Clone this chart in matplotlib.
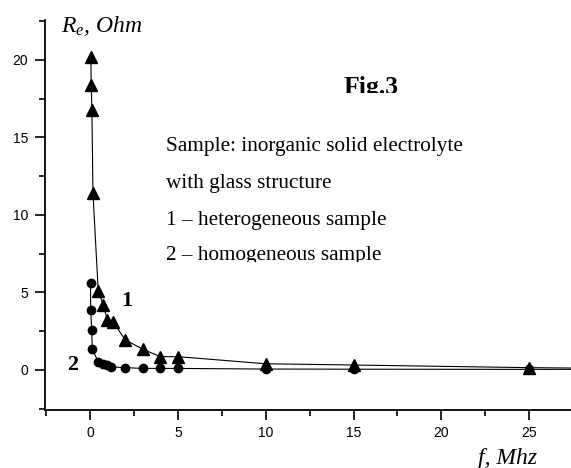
import matplotlib
matplotlib.use("Agg")
import matplotlib.pyplot as plt
from matplotlib.transforms import Bbox, TransformedBbox
from matplotlib.ticker import MultipleLocator

# Data (f in MHz, Re in Ohm)
f_het = [0.05, 0.07, 0.11, 0.17, 0.47, 0.76, 0.99, 1.33, 2.0, 3.0, 4.0, 5.0, 10.0, 15.0, 25.0, 30.0]
re_het = [20.2, 18.4, 16.8, 11.4, 5.1, 4.2, 3.2, 3.1, 1.94, 1.35, 0.86, 0.86, 0.40, 0.32, 0.15, 0.10]
f_hom = [0.03, 0.04, 0.1, 0.13, 0.47, 0.72, 0.95, 1.18, 2.0, 3.0, 4.0, 5.0, 10.0, 15.0, 25.0, 30.0]
re_hom = [5.6, 3.9, 2.55, 1.35, 0.53, 0.40, 0.30, 0.20, 0.15, 0.10, 0.10, 0.10, 0.06, 0.05, 0.04, 0.04]

x_ticks = [0, 5, 10, 15, 20, 25]
y_ticks = [0, 5, 10, 15, 20]

W, H = 571, 468
plt.rcParams['mathtext.fontset'] = 'custom'
plt.rcParams['mathtext.it'] = 'Liberation Serif:italic'
plt.rcParams['mathtext.rm'] = 'Liberation Serif'

fig = plt.figure(figsize=(W / 100, H / 100), dpi=100)
ax = fig.add_axes([45 / W, (H - 409.5) / H, 1 - 45 / W, (409.5 - 20) / H])

ax.plot(f_het, re_het, color='black', lw=0.8, marker='^', ms=8, mfc='black', mec='black', clip_on=True)
ax.plot(f_hom, re_hom, color='black', lw=0.8, marker='o', ms=6, mfc='black', mec='black', clip_on=True)

ax.set_xlim(-2.56, 27.38)
ax.set_ylim(-2.55, 22.58)
ax.set_xticks(x_ticks)
ax.set_yticks(y_ticks)
ax.xaxis.set_minor_locator(MultipleLocator(2.5))
ax.yaxis.set_minor_locator(MultipleLocator(2.5))
for s in ['top', 'right']:
    ax.spines[s].set_visible(False)
for s in ['left', 'bottom']:
    ax.spines[s].set_linewidth(1.3)
ax.tick_params(which='major', direction='out', length=7, width=1.2, labelsize=10, pad=5)
ax.tick_params(which='minor', direction='out', length=4, width=1.2)
for lab in ax.get_xticklabels() + ax.get_yticklabels():
    lab.set_fontfamily('Liberation Sans')

def px(x, y):
    return x / W, 1 - y / H

serif = 'Liberation Serif'
fig.text(*px(61, 32), r'$R_e$, Ohm', fontsize=17, fontstyle='italic', family=serif, va='baseline')
fig.text(*px(478, 464), 'f, Mhz', fontsize=17, fontstyle='italic', family=serif, va='baseline')

t = fig.text(*px(344, 94), 'Fig.3', fontsize=18.5, fontweight='bold', family=serif, va='baseline')
t.set_clip_on(True)
t.set_clip_box(TransformedBbox(Bbox([[0, 1 - 93 / H], [1, 1]]), fig.transFigure))

lines = ['Sample: inorganic solid electrolyte', 'with glass structure',
         '1 \u2013 heterogeneous sample', '2 \u2013 homogeneous sample']
bases = [151, 188, 225, 260]
for s, b in zip(lines, bases):
    tt = fig.text(*px(166, b), s, fontsize=15.3, family=serif, va='baseline')
    if s.startswith('2'):
        tt.set_clip_on(True)
        tt.set_clip_box(TransformedBbox(Bbox([[0, 1 - 262 / H], [1, 1]]), fig.transFigure))

fig.text(*px(121.5, 306.5), '1', fontsize=16, fontweight='bold', family=serif, va='baseline')
fig.text(*px(67, 369.5), '2', fontsize=16, fontweight='bold', family=serif, va='baseline')

fig.savefig('out.png', dpi=100)
